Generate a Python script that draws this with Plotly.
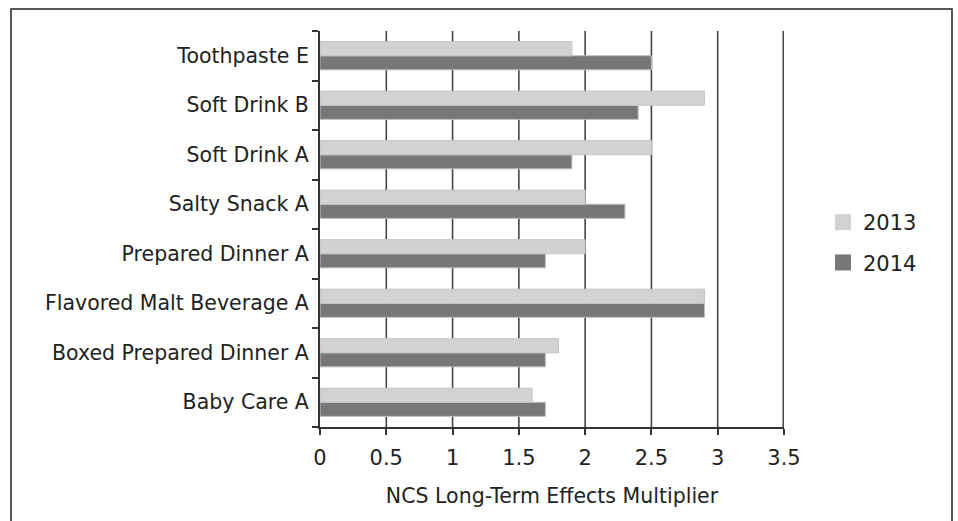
import plotly.graph_objects as go

# Products, listed bottom to top as they appear on the category axis
products = [
    "Baby Care A",
    "Boxed Prepared Dinner A",
    "Flavored Malt Beverage A",
    "Prepared Dinner A",
    "Salty Snack A",
    "Soft Drink A",
    "Soft Drink B",
    "Toothpaste E",
]
values_2013 = [1.6, 1.8, 2.9, 2.0, 2.0, 2.5, 2.9, 1.9]
values_2014 = [1.7, 1.7, 2.9, 1.7, 2.3, 1.9, 2.4, 2.5]
x_ticks = [0, 0.5, 1, 1.5, 2, 2.5, 3, 3.5]

LIGHT = "#d2d2d2"
DARK = "#777777"
INK = "#222222"
AXIS = "#333333"
GRID = "#444444"
FONT = "DejaVu Sans"

fig = go.Figure()

# Horizontal groups: the first trace sits lowest in each band, so 2014 goes first
fig.add_trace(go.Bar(
    y=products, x=values_2014, orientation="h", name="2014",
    marker=dict(color=DARK, line=dict(color="#bcbcbc", width=1)),
    showlegend=False,
))
fig.add_trace(go.Bar(
    y=products, x=values_2013, orientation="h", name="2013",
    marker=dict(color=LIGHT, line=dict(color="#c4c4c4", width=1)),
    showlegend=False,
))

# Legend entries with larger square swatches
for name, col, grp in [("2013", LIGHT, "a"), ("2014", DARK, "b")]:
    fig.add_trace(go.Scatter(
        x=[None], y=[None], mode="markers", name=name, legendgroup=grp,
        marker=dict(symbol="square", size=23, color=col, line=dict(width=0)),
    ))

L, R, T, B = 320, 174, 31, 94
W, H = 958, 521
pw, ph = W - L - R, H - T - B

# Vertical grid at every x tick, placed on the x scale and kept under the bars;
# the last one sits on the plot edge, so it is drawn a little wider
grid_lines = [
    dict(type="line", xref="x", yref="paper", x0=v, x1=v, y0=0, y1=1,
         line=dict(color=GRID, width=1.6 if v < x_ticks[-1] else 3), layer="below")
    for v in x_ticks[1:]
]

frame = dict(
    type="rect", xref="paper", yref="paper",
    x0=(11 - L) / pw, x1=(952 - L) / pw,
    y0=-0.3, y1=(H - B - 9) / ph,
    line=dict(color=INK, width=1.5), fillcolor="rgba(0,0,0,0)", layer="above",
)

fig.update_layout(
    width=W, height=H,
    margin=dict(l=L, r=R, t=T, b=B, pad=0),
    paper_bgcolor="white", plot_bgcolor="white",
    barmode="group", bargap=0.43, bargroupgap=0,
    font=dict(family=FONT, size=21, color=INK),
    showlegend=True,
    legend=dict(
        x=(823 - L) / pw, y=(H - B - 202) / ph, xanchor="left", yanchor="top",
        font=dict(family=FONT, size=21, color=INK),
        itemsizing="trace", itemwidth=30, tracegroupgap=10,
        bgcolor="rgba(0,0,0,0)",
    ),
    xaxis=dict(
        range=[0, 3.5], tickvals=x_ticks, ticktext=[f"{v:g}" for v in x_ticks],
        showgrid=False,
        zeroline=False, showline=True, linecolor=AXIS, linewidth=2,
        ticks="outside", ticklen=6, tickcolor=AXIS, tickwidth=2,
        tickfont=dict(family=FONT, size=21, color=INK),
        ticklabelstandoff=5,
        title=dict(text="NCS Long-Term Effects Multiplier",
                   font=dict(family=FONT, size=20.5, color=INK), standoff=19),
        fixedrange=True,
    ),
    yaxis=dict(
        type="category", categoryorder="array", categoryarray=products,
        tickson="boundaries", ticks="outside", ticklen=6,
        tickcolor=AXIS, tickwidth=2,
        showline=True, linecolor=AXIS, linewidth=2,
        showgrid=False, zeroline=False,
        tickfont=dict(family=FONT, size=20.5, color=INK),
        ticklabelstandoff=5,
        fixedrange=True,
    ),
    shapes=grid_lines + [frame],
)

fig.write_html("out.html", config={"displayModeBar": False})
